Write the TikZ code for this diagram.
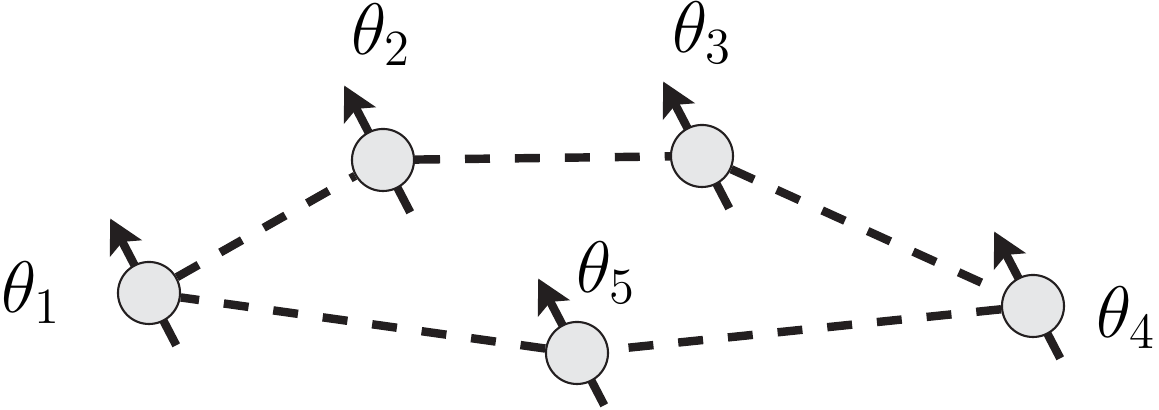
\documentclass[tikz,border=0pt]{standalone}
\usepackage{amsmath, amssymb}
\usepackage{tikz}
\usetikzlibrary{arrows.meta, backgrounds}

\definecolor{inkblack}{HTML}{231F20}
\definecolor{sitegray}{HTML}{E6E7E8}

\tikzset{
  site/.style={circle, draw=inkblack, line width=0.6pt, fill=sitegray, minimum size=0.62cm, inner sep=0pt},
  bond/.style={inkblack, line width=2.4pt, dash pattern=on 7.1pt off 7.1pt},
  spin/.style={inkblack, line width=2.4pt, -{Stealth[length=9.5pt, width=10pt, inset=2pt]}},
  phase/.style={font=\huge, inner sep=0pt, anchor=base west}
}

\begin{document}
\begin{tikzpicture}[x=0.01cm, y=0.01cm]
  \useasboundingbox (0,0) rectangle (1159,410);
  % the five sites
  \node[site] (s1) at (149,117) {};
  \node[site] (s2) at (383,250) {};
  \node[site] (s3) at (702,254) {};
  \node[site] (s4) at (1033,104) {};
  \node[site] (s5) at (577,57) {};
  % phase labels
  \node[phase] (t1) at (1,97) {$\theta_1$};
  \node[phase] (t2) at (351,355) {$\theta_2$};
  \node[phase] (t3) at (672,357) {$\theta_3$};
  \node[phase] (t4) at (1096,72) {$\theta_4$};
  \node[phase] (t5) at (576,117) {$\theta_5$};
  % couplings and spins go under the sites
  \begin{scope}[on background layer]
    \foreach \a/\b in {s1/s2, s2/s3, s3/s4, s4/s5, s5/s1}
      \draw[bond] (\a) -- (\b);
    \foreach \i in {1,...,5}
      \draw[spin] (s\i.center) ++(-62.5:59) -- ++(117.5:143);
  \end{scope}
\end{tikzpicture}
\end{document}
